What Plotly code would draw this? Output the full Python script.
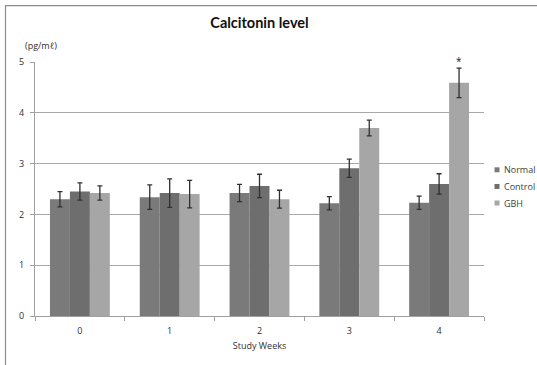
import plotly.graph_objects as go

# Calcitonin level by study week (mean ± SD)
weeks = ["0", "1", "2", "3", "4"]
normal = [2.30, 2.34, 2.42, 2.22, 2.23]
normal_err = [0.15, 0.24, 0.17, 0.13, 0.13]
control = [2.45, 2.42, 2.56, 2.91, 2.60]
control_err = [0.17, 0.28, 0.23, 0.18, 0.20]
gbh = [2.42, 2.40, 2.30, 3.70, 4.59]
gbh_err = [0.14, 0.27, 0.175, 0.155, 0.29]

series = [
    ("Normal", normal, normal_err, "#7a7a7a"),
    ("Control", control, control_err, "#6e6e6e"),
    ("GBH", gbh, gbh_err, "#a6a6a6"),
]

W, H = 537, 365
L, R, T, B = 35, 484, 62, 316.5  # plot area in pixels


def px(x):
    return (x - L) / (R - L)


def py(y):
    return (B - y) / (B - T)


fig = go.Figure()
for name, vals, errs, color in series:
    fig.add_trace(go.Bar(
        x=weeks, y=vals, name=name, marker=dict(color=color, line=dict(width=0)),
        error_y=dict(type="data", array=errs, visible=True, color="#303030",
                     thickness=1.3, width=2.5),
        showlegend=False,
    ))

# hand-drawn legend: small squares with labels
legend_y = [170, 186.7, 203.3]
for (name, _, _, color), ly in zip(series, legend_y):
    fig.add_shape(type="rect", xref="paper", yref="paper",
                  x0=px(494.5), x1=px(499.5), y0=py(ly + 2.5), y1=py(ly - 2.5),
                  fillcolor=color, line=dict(width=0))
    fig.add_annotation(text=name, xref="paper", yref="paper", x=px(502), y=py(ly),
                       xanchor="left", yanchor="middle", showarrow=False,
                       font=dict(size=9, color="#404040", family="Open Sans"))

# chart-area frame (top and left edges)
fig.add_shape(type="line", xref="paper", yref="paper",
              x0=px(5), x1=px(540), y0=py(5.5), y1=py(5.5),
              line=dict(color="#8c8c8c", width=1.2))
fig.add_shape(type="line", xref="paper", yref="paper",
              x0=px(5.5), x1=px(5.5), y0=py(5), y1=py(370),
              line=dict(color="#8c8c8c", width=1.2))

# unit label
fig.add_annotation(text="(pg/mℓ)", xref="paper", yref="paper", x=px(41), y=py(45),
                   xanchor="center", yanchor="middle", showarrow=False,
                   font=dict(size=9, color="#303030", family="Open Sans"))

# significance mark over week 4 GBH
fig.add_annotation(text="*", x="4", y=gbh[4] + gbh_err[4], xshift=20, yshift=7,
                   yanchor="middle", showarrow=False,
                   font=dict(size=10, color="#202020", family="Open Sans"))

fig.update_layout(
    width=W, height=H,
    margin=dict(l=L, r=W - R, t=T, b=H - B, pad=0),
    paper_bgcolor="white", plot_bgcolor="white",
    barmode="group", bargap=1 / 3, bargroupgap=0,
    title=dict(text="<b>Calcitonin level</b>", x=0.5, xref="paper", xanchor="center",
               y=1 - 22.5 / H, yanchor="middle",
               font=dict(size=14.5, color="#101010", family="Lato")),
    font=dict(family="Open Sans", size=9, color="#303030"),
    xaxis=dict(
        type="category", range=[-0.5, 4.5], tickson="boundaries",
        ticks="outside", ticklen=4, tickcolor="#a0a0a0",
        showline=True, linecolor="#a0a0a0", linewidth=1.2,
        showgrid=False, zeroline=False, ticklabelstandoff=6,
        tickfont=dict(size=9, color="#303030"),
        title=dict(text="Study Weeks", font=dict(size=9, color="#303030"), standoff=6),
    ),
    yaxis=dict(
        range=[0, 5], dtick=1, ticks="outside", ticklen=4, tickcolor="#a0a0a0",
        showline=True, linecolor="#a0a0a0", linewidth=1.2,
        showgrid=True, gridcolor="#a8a8a8", gridwidth=1, ticklabelstandoff=4,
        zeroline=False, tickfont=dict(size=9, color="#303030"),
    ),
    showlegend=False,
)

fig.write_html("out.html")
